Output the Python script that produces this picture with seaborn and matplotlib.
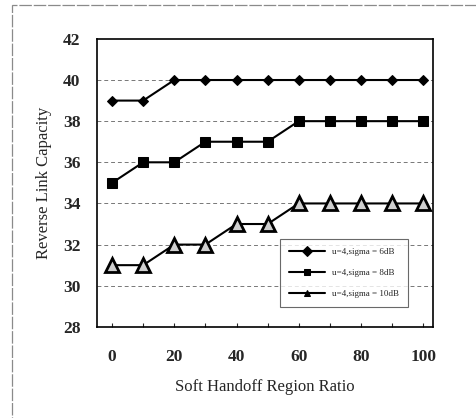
import pandas as pd
import matplotlib
matplotlib.use("Agg")
import matplotlib.pyplot as plt
import seaborn as sns
from matplotlib.patches import Rectangle

# Values
ratio = [0, 10, 20, 30, 40, 50, 60, 70, 80, 90, 100]
sigma6 = [39, 39, 40, 40, 40, 40, 40, 40, 40, 40, 40]
sigma8 = [35, 36, 36, 37, 37, 37, 38, 38, 38, 38, 38]
sigma10 = [31, 31, 32, 32, 33, 33, 34, 34, 34, 34, 34]
series_names = ["u=4,sigma = 6dB", "u=4,sigma = 8dB", "u=4,sigma = 10dB"]

df = pd.concat([
    pd.DataFrame({"ratio": ratio, "capacity": vals, "series": name})
    for name, vals in zip(series_names, [sigma6, sigma8, sigma10])
])

sns.set_style("white")
plt.rcParams["font.family"] = ["Liberation Serif", "DejaVu Serif"]

fig = plt.figure(figsize=(4.76, 4.18), dpi=100)
ax = fig.add_axes([0.204, 0.218, 0.706, 0.689])

sns.lineplot(data=df, x="ratio", y="capacity", hue="series", style="series",
             palette=["black"] * 3, markers=["D", "s", "^"], dashes=False,
             linewidth=1.5, markeredgecolor="black", ax=ax)

sizes = [5, 7.5, 10]
for line, ms in zip(ax.lines[:3], sizes):
    line.set_markersize(ms)
ax.lines[2].set_markerfacecolor("#cfcfcf")
ax.lines[2].set_markeredgewidth(2.0)

ax.set_xlim(-4.8, 103.2)
ax.set_ylim(28, 42)
ax.set_xticks(range(0, 101, 20))
ax.set_xticks(range(0, 101, 10), minor=True)
ax.set_yticks(range(28, 43, 2))
ax.tick_params(axis="x", which="both", direction="in", length=3, width=0.8,
               bottom=True, pad=16)
ax.tick_params(axis="y", length=0, pad=12)
for lbl in ax.get_xticklabels() + ax.get_yticklabels():
    lbl.set_fontsize(12.5)
    lbl.set_fontweight("bold")

for y in range(30, 41, 2):
    ax.axhline(y, color="#777777", linewidth=0.7, linestyle=(0, (4, 3)), zorder=0)

for spine in ax.spines.values():
    spine.set_color("black")
    spine.set_linewidth(1.2)

ax.set_xlabel("Soft Handoff Region Ratio", fontsize=12, labelpad=10)
ax.set_ylabel("Reverse Link Capacity", fontsize=12, labelpad=8)

handles, labels = ax.get_legend_handles_labels()
for h in handles:
    h.set_markersize(5)
    h.set_markerfacecolor("black")
leg = ax.legend(handles, labels, loc="lower left",
                bbox_to_anchor=(0.53, 0.052, 0.41, 0.267), mode="expand",
                fontsize=6.5, frameon=True, fancybox=False, handlelength=4,
                borderpad=1.0, labelspacing=1.4)
leg.get_frame().set_edgecolor("#444444")
leg.get_frame().set_linewidth(0.8)

# scanned-page frame around the figure (only top and left edges show)
fig.patches.append(Rectangle((0.025, -0.2), 1.3, 1.188, transform=fig.transFigure,
                             fill=False, edgecolor="#8a8a8a", linewidth=0.9,
                             linestyle=(0, (10, 1.5))))

fig.savefig("out.png", dpi=100)
